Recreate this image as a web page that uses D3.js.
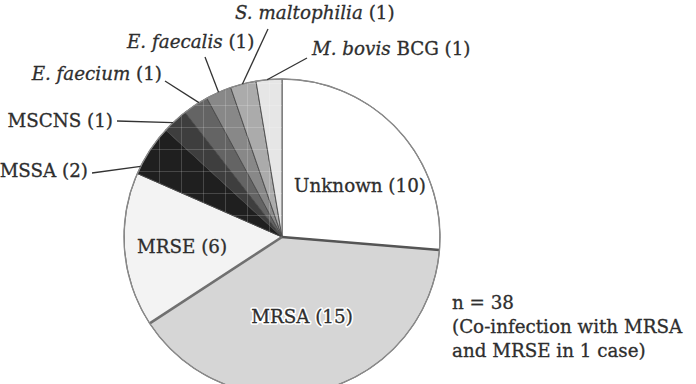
<!DOCTYPE html>
<html>
<head>
<meta charset="utf-8">
<script src="https://cdn.jsdelivr.net/npm/d3@7"></script>
<style>
  html, body { margin: 0; padding: 0; background: #fff; }
  svg { display: block; }
</style>
</head>
<body>
<svg id="chart" width="696" height="384"></svg>
<script>
// ---- data ----
const categories = ["Unknown", "MRSA", "MRSE", "MSSA", "MSCNS", "E. faecium", "E. faecalis", "S. maltophilia", "M. bovis"];
const values = [10, 15, 6, 2, 1, 1, 1, 1, 1];
const italicNames = [false, false, false, false, false, true, true, true, true];
const nameSuffix = ["", "", "", "", "", "", "", "", " BCG"];
const noteLines = ["n = 38", "(Co-infection with MRSA", "and MRSE in 1 case)"];

// ---- style / layout ----
const fills = ["#ffffff", "#d6d6d6", "#f3f3f3", "#1f1f1f", "#3e3e3e", "#646464", "#888888", "#ababab", "#e6e6e6"];
const cx = 282, cy = 237, R = 158;
const fontFam = "'DejaVu Serif', serif";
const fontSize = 18.3;
const textColor = "#2e2e2e";

// inside labels: [x, baseline y]
const insideLabels = { 0: [360, 192], 1: [302, 323], 2: [182, 253] };
// outside labels: index -> {x, y, anchor, lx, ly, frac}
const outsideLabels = {
  3: { x: 88, y: 177, anchor: "end", lx: 92, ly: 173, frac: 0.15 },
  4: { x: 113, y: 127, anchor: "end", lx: 117, ly: 121, frac: 0.4 },
  5: { x: 162, y: 80, anchor: "end", lx: 165, ly: 81, frac: 0.65 },
  6: { x: 127, y: 48, anchor: "start", lx: 205, ly: 57, frac: 0.5 },
  7: { x: 235, y: 19, anchor: "start", lx: 268, ly: 29, frac: 0.47 },
  8: { x: 312, y: 55, anchor: "start", lx: 307, ly: 58, frac: 0.43 }
};

const svg = d3.select("#chart");
const defs = svg.append("defs");
const pat = defs.append("pattern").attr("id", "grid")
  .attr("patternUnits", "userSpaceOnUse").attr("width", 22).attr("height", 22)
  .attr("x", 163).attr("y", 110);
pat.append("path").attr("d", "M0,0 V22 M0,0 H22")
  .attr("stroke", "#ffffff").attr("stroke-width", 1).attr("stroke-opacity", 0.35).attr("fill", "none");

const pie = d3.pie().sort(null).value(d => d);
const arcs = pie(values);
const arc = d3.arc().innerRadius(0).outerRadius(R);

const g = svg.append("g").attr("transform", `translate(${cx},${cy})`);

g.selectAll("path.slice").data(arcs).join("path")
  .attr("class", "slice")
  .attr("d", arc)
  .attr("fill", (d, i) => fills[i])
  .attr("stroke", "#4a4a4a")
  .attr("stroke-width", 0.9)
  .attr("stroke-linejoin", "round");

// grid texture over small slices
g.selectAll("path.tex").data(arcs.filter((d, i) => i >= 3)).join("path")
  .attr("class", "tex")
  .attr("d", arc)
  .attr("fill", "url(#grid)");

// thicker separators between the big slices
const sepAngles = [arcs[0].endAngle, arcs[1].endAngle];
g.selectAll("line.sep").data(sepAngles).join("line")
  .attr("class", "sep")
  .attr("x1", 0).attr("y1", 0)
  .attr("x2", a => R * Math.sin(a)).attr("y2", a => -R * Math.cos(a))
  .attr("stroke", (a, i) => i === 0 ? "#555" : "#707070")
  .attr("stroke-width", 2.6);

// outer ring
g.append("circle").attr("r", R).attr("fill", "none").attr("stroke", "#8a8a8a").attr("stroke-width", 1.4);

function styleText(t) {
  return t.attr("font-family", fontFam).attr("font-size", fontSize)
    .attr("fill", textColor).attr("stroke", textColor).attr("stroke-width", 0.3);
}

// inside labels
Object.entries(insideLabels).forEach(([k, p]) => {
  const i = +k;
  if (i === 1) {
    svg.append("text")
      .attr("x", p[0]).attr("y", p[1]).attr("text-anchor", "middle")
      .attr("font-family", fontFam).attr("font-size", fontSize)
      .attr("fill", "#fff").attr("stroke", "#fff").attr("stroke-width", 3.5).attr("stroke-linejoin", "round")
      .text(`${categories[i]} (${values[i]})`);
  }
  styleText(svg.append("text")
    .attr("x", p[0]).attr("y", p[1])
    .attr("text-anchor", "middle"))
    .text(`${categories[i]} (${values[i]})`);
});

// outside labels + leaders
Object.entries(outsideLabels).forEach(([k, o]) => {
  const i = +k;
  const a = arcs[i].startAngle + o.frac * (arcs[i].endAngle - arcs[i].startAngle);
  const px = cx + R * Math.sin(a), py = cy - R * Math.cos(a);
  svg.append("line")
    .attr("x1", o.lx).attr("y1", o.ly).attr("x2", px).attr("y2", py)
    .attr("stroke", "#333").attr("stroke-width", 1.3);
  const t = styleText(svg.append("text")
    .attr("x", o.x).attr("y", o.y)
    .attr("text-anchor", o.anchor));
  t.append("tspan").attr("font-style", italicNames[i] ? "italic" : "normal").text(categories[i]);
  t.append("tspan").text(`${nameSuffix[i]} (${values[i]})`);
});

// note
const note = styleText(svg.append("text"));
noteLines.forEach((s, j) => {
  note.append("tspan").attr("x", 452).attr("y", 309 + j * 24).text(s);
});
</script>
</body>
</html>
